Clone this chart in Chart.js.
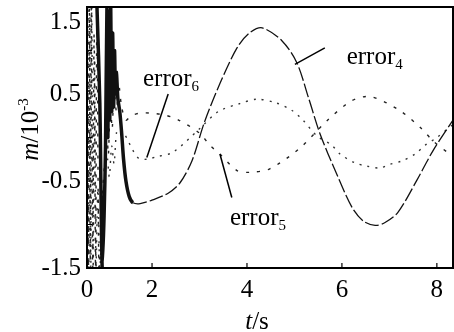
<!DOCTYPE html>
<html>
<head>
<meta charset="utf-8">
<script src="https://cdn.jsdelivr.net/npm/chart.js@4"></script>
<style>
  html, body { margin: 0; padding: 0; background: #fff; }
</style>
</head>
<body>
<canvas id="myChart" width="454" height="332"></canvas>
<script>
// time (s) and error (x10^-3)
const t4 = [0.84, 0.9, 0.95, 0.99, 1.02, 1.05, 1.07, 1.09, 1.11, 1.13, 1.15, 1.17, 1.19, 1.21, 1.23, 1.25, 1.28, 1.32, 1.36, 1.4, 1.45, 1.52, 1.6, 1.75, 2.0, 2.34, 2.59, 2.84, 3.1, 3.43, 3.79, 4.05, 4.32, 4.74, 5.05, 5.3, 5.54, 5.89, 6.21, 6.45, 6.7, 6.9, 7.18, 7.58, 7.92, 8.34]
const error4 = [1.5, 0.4, -1.5, -0.9, -0.1, 1.5, 0.0, 1.45, 0.2, 1.5, 0.3, 1.2, 0.35, 1.0, 0.5, 0.75, 0.45, 0.3, 0.05, -0.25, -0.5, -0.68, -0.75, -0.76, -0.72, -0.64, -0.52, -0.27, 0.17, 0.62, 1.03, 1.2, 1.26, 1.11, 0.86, 0.45, 0.04, -0.42, -0.8, -0.96, -1.01, -0.98, -0.86, -0.49, -0.15, 0.2]

const t5 = [0.64, 0.66, 0.68, 0.7, 0.72, 0.75, 0.78, 0.81, 0.84, 0.88, 0.92, 0.96, 1.0, 1.04, 1.08, 1.12, 1.16, 1.2, 1.25, 1.3, 1.36, 1.45, 1.56, 1.75, 1.96, 2.25, 2.53, 3.0, 3.22, 3.43, 3.79, 4.06, 4.48, 5.12, 5.68, 6.2, 6.6, 7.22, 7.68, 7.92, 8.34]
const error5 = [1.5, -1.5, 1.5, -1.4, 1.5, -1.5, 1.2, -1.5, 1.5, -1.5, -1.3, -0.6, -0.3, 0.2, -0.2, 0.45, 0.1, 0.55, 0.3, 0.6, 0.35, 0.2, 0.25, 0.28, 0.28, 0.26, 0.21, 0.05, -0.09, -0.19, -0.38, -0.4, -0.36, -0.12, 0.19, 0.42, 0.47, 0.31, 0.1, -0.04, -0.22]

const t6 = [0.63, 0.65, 0.67, 0.69, 0.71, 0.73, 0.76, 0.79, 0.82, 0.86, 0.9, 0.95, 1.0, 1.05, 1.1, 1.15, 1.2, 1.25, 1.3, 1.4, 1.47, 1.6, 1.72, 1.9, 2.1, 2.44, 3.0, 3.4, 3.85, 4.21, 4.6, 4.95, 5.18, 5.47, 5.79, 5.96, 6.27, 6.53, 6.8, 7.0, 7.26, 7.54, 7.75, 8.0, 8.34]
const error6 = [-1.5, 1.5, -1.5, 1.4, -1.5, 1.5, -1.5, 0.9, -1.5, -0.6, -1.5, -1.0, -0.5, -0.2, -0.45, -0.1, -0.3, 0.05, 0.1, 0.05, -0.01, -0.15, -0.24, -0.25, -0.22, -0.17, 0.1, 0.3, 0.39, 0.44, 0.4, 0.31, 0.2, 0.02, -0.09, -0.19, -0.29, -0.33, -0.35, -0.31, -0.27, -0.19, -0.09, 0.0, 0.15]

// axis ticks (the figure's "0" sits at the left edge of the time axis)
const xTickValues = [0.63, 2, 4, 6, 8]
const xTickLabels = ['0', '2', '4', '6', '8']
const yTickValues = [-1.5, -0.5, 0.5, 1.5]
const yTickLabels = ['-1.5', '-0.5', '0.5', '1.5']
const yMinorTicks = [-1, 0, 1]

// curve labels: text anchor, pointer line from -> to (data units)
const notes = [
  { sub: '4', at: [6.1, 0.85], from: [5.64, 1.03], to: [5.01, 0.84] },
  { sub: '6', at: [1.81, 0.59], from: [2.34, 0.5], to: [1.89, -0.23] },
  { sub: '5', at: [3.64, -1.01], from: [3.68, -0.69], to: [3.43, -0.19] }
]

const serif = "'Times New Roman', 'Liberation Serif', 'DejaVu Serif', serif"
const toPoints = (ts, vs) => ts.map((t, i) => ({ x: t, y: vs[i] }))

// draw text pieces left to right, each with its own font and vertical shift
const drawRuns = (ctx, runs, x, y, align) => {
  let w = 0
  runs.forEach(r => { ctx.font = r.font; w += ctx.measureText(r.text).width })
  let cx = align === 'center' ? x - w / 2 : x
  runs.forEach(r => {
    ctx.font = r.font
    ctx.fillText(r.text, cx, y + (r.dy || 0))
    cx += ctx.measureText(r.text).width
  })
}

const decor = {
  id: 'decor',
  afterDatasetsDraw(chart) {
    const { ctx, chartArea: a, scales: { x, y } } = chart
    ctx.save()
    ctx.strokeStyle = '#000'
    ctx.fillStyle = '#000'
    ctx.lineWidth = 2
    ctx.strokeRect(a.left, a.top, a.right - a.left, a.bottom - a.top)

    // inward tick marks
    ctx.lineWidth = 1.2
    ctx.beginPath()
    xTickValues.slice(1).forEach(v => {
      const px = x.getPixelForValue(v)
      ctx.moveTo(px, a.bottom)
      ctx.lineTo(px, a.bottom - 5)
    })
    yTickValues.concat(yMinorTicks).forEach(v => {
      const py = y.getPixelForValue(v)
      ctx.moveTo(a.left, py)
      ctx.lineTo(a.left + 5, py)
    })
    ctx.stroke()

    // labels and pointer lines
    ctx.lineWidth = 1.5
    ctx.textBaseline = 'alphabetic'
    notes.forEach(n => {
      ctx.beginPath()
      ctx.moveTo(x.getPixelForValue(n.from[0]), y.getPixelForValue(n.from[1]))
      ctx.lineTo(x.getPixelForValue(n.to[0]), y.getPixelForValue(n.to[1]))
      ctx.stroke()
      drawRuns(ctx, [
        { text: 'error', font: '25px ' + serif },
        { text: n.sub, font: '15px ' + serif, dy: 5 }
      ], x.getPixelForValue(n.at[0]), y.getPixelForValue(n.at[1]))
    })
    ctx.restore()
  },
  afterDraw(chart) {
    const { ctx, chartArea: a } = chart
    ctx.save()
    ctx.fillStyle = '#000'
    ctx.textBaseline = 'alphabetic'
    // x title
    drawRuns(ctx, [
      { text: 't', font: 'italic 25px ' + serif },
      { text: '/s', font: '25px ' + serif }
    ], 257, 329, 'center')
    // y title
    ctx.translate(38, (a.top + a.bottom) / 2 - 8)
    ctx.rotate(-Math.PI / 2)
    drawRuns(ctx, [
      { text: 'm', font: 'italic 25px ' + serif },
      { text: '/10', font: '25px ' + serif },
      { text: '-3', font: '15px ' + serif, dy: -10 }
    ], 0, 0, 'center')
    ctx.restore()
  }
}

const ctx = document.getElementById('myChart').getContext('2d')
const chart = new Chart(ctx, {
  type: 'scatter',
  data: {
    datasets: [{
      label: 'error4',
      data: toPoints(t4, error4),
      borderColor: '#111',
      borderWidth: 1.3,
      borderDash: [14, 3],
      segment: {
        borderWidth: c => c.p0.parsed.x < 1.58 ? 3.5 : 1.3,
        borderDash: c => c.p0.parsed.x < 1.58 ? [] : [14, 3]
      }
    }, {
      label: 'error5',
      data: toPoints(t5, error5),
      borderColor: '#222',
      borderWidth: 1.4,
      borderDash: [3, 8]
    }, {
      label: 'error6',
      data: toPoints(t6, error6),
      borderColor: '#333',
      borderWidth: 1.4,
      borderDash: [2, 6]
    }]
  },
  options: {
    responsive: false,
    animation: false,
    layout: { padding: { top: 7, right: 1 } },
    elements: {
      point: { radius: 0, hoverRadius: 0 },
      line: { tension: 0.3, fill: false }
    },
    datasets: { scatter: { showLine: true, clip: 0 } },
    plugins: { legend: { display: false }, tooltip: { enabled: false } },
    scales: {
      x: {
        type: 'linear',
        min: 0.63,
        max: 8.34,
        grid: { display: false, drawTicks: false },
        border: { display: false },
        afterBuildTicks: axis => { axis.ticks = xTickValues.map(v => ({ value: v })) },
        afterFit: axis => { axis.height = 64; axis.paddingLeft = 0; axis.paddingRight = 0 },
        ticks: {
          autoSkip: false,
          maxRotation: 0,
          padding: 7,
          color: '#000',
          font: { family: serif, size: 25 },
          callback: (v, i) => xTickLabels[i]
        }
      },
      y: {
        min: -1.5,
        max: 1.5,
        grid: { display: false, drawTicks: false },
        border: { display: false },
        afterBuildTicks: axis => { axis.ticks = yTickValues.map(v => ({ value: v })) },
        afterFit: axis => { axis.width = 87; axis.paddingTop = 0; axis.paddingBottom = 0 },
        ticks: {
          autoSkip: false,
          padding: 6,
          color: '#000',
          font: { family: serif, size: 25 },
          // top label sits just below the frame, as in the figure
          callback: (v, i) => i === yTickValues.length - 1 ? ['', yTickLabels[i]] : yTickLabels[i]
        }
      }
    }
  },
  plugins: [decor]
})
</script>
</body>
</html>
